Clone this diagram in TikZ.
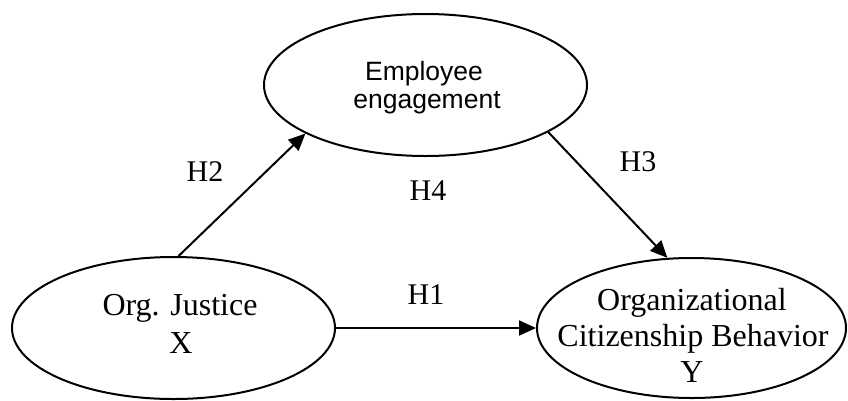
\documentclass[tikz,border=0pt]{standalone}
\usepackage{fontspec}
\setmainfont{Liberation Serif}
\newfontfamily\tnrfont{Liberation Serif}
\newfontfamily\arlfont{Liberation Sans}
\usetikzlibrary{shapes.geometric,arrows.meta}
\begin{document}
\begin{tikzpicture}[x=1pt,y=-1pt,
  construct/.style={draw=black,line width=2pt,ellipse,inner sep=0pt},
  txt/.style={anchor=base,inner sep=0pt,font=\tnrfont\fontsize{32pt}{36pt}\selectfont},
  stxt/.style={anchor=base,inner sep=0pt,font=\arlfont\fontsize{26.5pt}{30pt}\selectfont},
  hyp/.style={inner sep=0pt,font=\tnrfont\fontsize{30pt}{34pt}\selectfont},
  path/.style={line width=2pt,-{Triangle[length=17pt,width=15pt]}}]
\useasboundingbox (0,0) rectangle (848,400);

% latent constructs
\node[construct,minimum width=323pt,minimum height=142pt] (ee) at (425.5,85) {};
\node[construct,minimum width=323pt,minimum height=142pt] (oj) at (173.5,328) {};
\node[construct,minimum width=309pt,minimum height=140pt] (ocb) at (691.5,328) {};

% construct labels
\node[stxt] (ee1) at (424,80) {Employee};
\node[stxt] (ee2) at (427,108) {engagement};
\node[txt] (oj1) at (180,315) {Org. Justice};
\node[txt] (oj2) at (181,353) {X};
\node[txt] (ocb1) at (692,310) {Organizational};
\node[txt] (ocb2) at (693,346) {Citizenship Behavior};
\node[txt] (ocb3) at (692,382) {Y};

% hypothesised paths
\draw[path] (oj.86) -- (ee.202);
\draw[path] (ee.339) -- (ocb.109);
\draw[path] (oj.east) -- (ocb.west);

% hypothesis labels
\node[hyp] (h1) at (426,295) {H1};
\node[hyp] (h2) at (205,172) {H2};
\node[hyp] (h3) at (638,162) {H3};
\node[hyp] (h4) at (428,191) {H4};
\end{tikzpicture}
\end{document}
